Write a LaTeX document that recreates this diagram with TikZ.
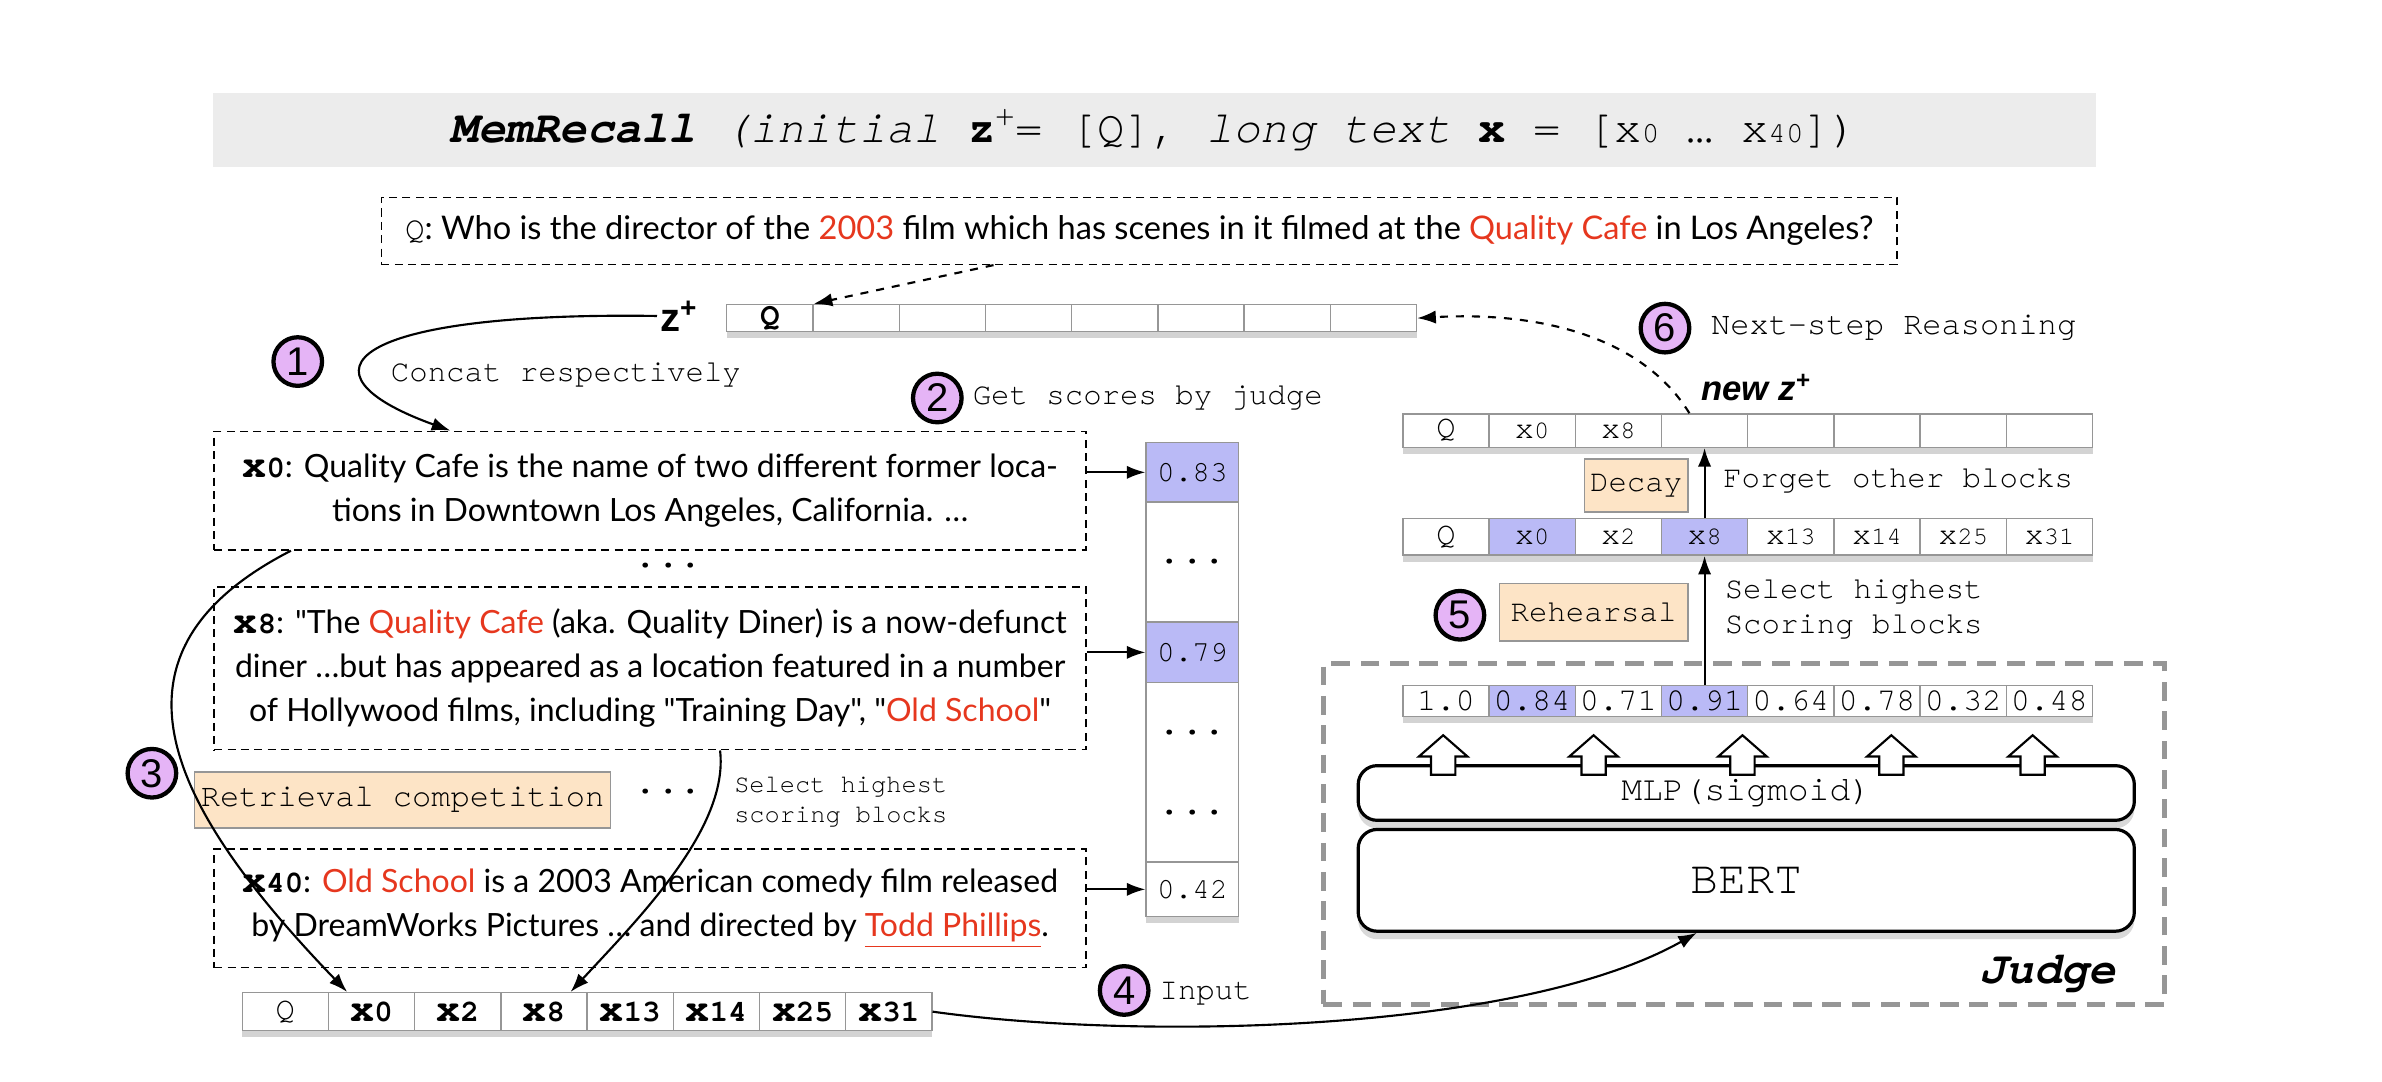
\documentclass[tikz,border=0pt]{standalone}
\usepackage{fontspec}
\setmainfont[Ligatures=TeXOff]{Lato}
\setmonofont{TeX Gyre Cursor}
\newfontfamily\helv{Liberation Sans}
\usetikzlibrary{arrows.meta,shadows}

\definecolor{stepfill}{RGB}{229,180,246}
\definecolor{hlblue}{RGB}{186,186,246}
\definecolor{peach}{RGB}{253,228,198}
\definecolor{hotred}{RGB}{230,55,30}
\definecolor{bandgray}{RGB}{236,236,236}
\definecolor{edgegray}{RGB}{150,150,150}

\newcommand\redw[1]{\textcolor{hotred}{#1}}
\newcommand\xs[1]{x{\fontsize{9.5}{9.5}\selectfont#1}}
\newcommand\xb[1]{\textbf{\fontsize{15}{15}\selectfont x\fontsize{11.5}{11.5}\selectfont#1}}
\newcommand\xt[1]{\textbf{\ttfamily\fontsize{15}{15}\selectfont x\fontsize{11.5}{11.5}\selectfont#1}}
\newcommand\cellrow[5]{%
  \foreach \lab/\fl [count=\i from 0] in {#5}
    \node[cell, fill=\fl, minimum height=#4] (#1-\i) at ({#2+\i*56.75}, #3) {\lab};
}

\tikzset{
  numcirc/.style={circle, draw, line width=1.6pt, fill=stepfill, inner sep=0pt,
    minimum size=0.64cm, font=\helv\fontsize{15}{15}\selectfont},
  cell/.style={draw=edgegray, line width=0.5pt, inner sep=0pt, minimum width=1.135cm,
    anchor=north west, font=\ttfamily\fontsize{12}{12}\selectfont,
    drop shadow={shadow xshift=0pt, shadow yshift=-2.5pt, opacity=0.35}},
  scell/.style={cell, minimum width=1.22cm, font=\ttfamily\fontsize{11}{11}\selectfont},
  textbox/.style={draw, dash pattern=on 3pt off 2pt, line width=0.6pt, minimum width=11.48cm,
    align=center, font=\fontsize{12}{16.5}\selectfont},
  tagbox/.style={draw=edgegray, fill=peach, line width=0.6pt, inner sep=0pt,
    font=\ttfamily\fontsize{11.5}{11.5}\selectfont},
  mono/.style={font=\ttfamily\fontsize{11.5}{13}\selectfont, inner sep=0pt, anchor=west, align=left},
  dots/.style={font=\ttfamily\bfseries\fontsize{14}{30}\selectfont, inner sep=0pt, align=center},
  netbox/.style={draw, line width=1.2pt, rounded corners=0.25cm, fill=white, minimum width=10.22cm,
    drop shadow={shadow xshift=0pt, shadow yshift=-3pt, opacity=0.3}},
  conn/.style={line width=0.8pt, -{Latex[length=7pt,width=5pt]}},
}

\begin{document}
\begin{tikzpicture}[x=0.02cm, y=-0.02cm]
%%%%% START %%%%%
\useasboundingbox (0,0) rectangle (1568,712);

\node[fill=bandgray, minimum width=24.8cm, minimum height=0.98cm] (title) at (760,85.5)
  {\ttfamily\fontsize{17}{20}\selectfont\textbf{\textit{MemRecall}} \textit{(initial} \textbf{z}\textsuperscript{+}= [Q], \textit{long text} \textbf{x} = [x{\fontsize{11}{11}\selectfont0} … x{\fontsize{11}{11}\selectfont40}])};

\node[textbox, minimum width=19.96cm, minimum height=0.88cm, font=\fontsize{12.2}{14}\selectfont] (qbox) at (750,152)
  {{\ttfamily Q}: Who is the director of the \redw{2003} film which has scenes in it filmed at the \redw{Quality Cafe} in Los Angeles?};

% memory z+
\node[font=\helv\bfseries\fontsize{15}{15}\selectfont, inner sep=1pt] (zlab) at (447,208) {z\textsuperscript{+}};
\cellrow{zr}{478}{200}{0.36cm}{\textbf{Q}/white,{}/white,{}/white,{}/white,{}/white,{}/white,{}/white,{}/white}

\node[numcirc] (c1) at (196,238) {1};
\node[mono] (concat) at (257,247) {Concat respectively};
\node[numcirc] (c2) at (617,262) {2};
\node[mono] (getsc) at (640,262) {Get scores by judge};

% long text blocks
\node[textbox, minimum height=1.56cm] (x0box) at (428,323)
  {\xt{0}: Quality Cafe is the name of two different former loca-\\tions in Downtown Los Angeles, California. …};
\node[dots] (dl1) at (440,372) {...};
\node[textbox, minimum height=2.14cm] (x8box) at (428,440)
  {\xt{8}: "The \redw{Quality Cafe} (aka. Quality Diner) is a now-defunct\\diner …but has appeared as a location featured in a number\\of Hollywood films, including "Training Day", "\redw{Old School}"};
\node[numcirc] (c3) at (100,509) {3};
\node[tagbox, minimum width=5.48cm, minimum height=0.74cm, font=\ttfamily\fontsize{12}{12}\selectfont] (retr) at (265,526.5) {Retrieval competition};
\node[dots] (dl2) at (440,521) {...};
\node[mono, font=\ttfamily\fontsize{9.5}{11.4}\selectfont] (selL) at (483,528) {Select highest\\scoring blocks};
\node[textbox, minimum height=1.56cm] (x40box) at (428,598)
  {\xt{40}: \redw{Old School} is a 2003 American comedy film released\\by DreamWorks Pictures … and directed by \redw{\underline{Todd Phillips}}.};

% score column
\node[scell, fill=hlblue, minimum height=0.78cm] (sc1) at (754,291) {0.83};
\node[scell, fill=white, minimum height=1.58cm] (sd1) at (754,330) {};
\node[dots] at (sd1) {...};
\node[scell, fill=hlblue, minimum height=0.8cm] (sc2) at (754,409) {0.79};
\node[scell, fill=white, minimum height=2.36cm] (sd2) at (754,449) {};
\node[dots] at (sd2) {...\\...};
\node[scell, fill=white, minimum height=0.72cm] (sc3) at (754,567) {0.42};

\draw[conn] (x0box.east |- sc1.west) -- (sc1.west);
\draw[conn] (x8box.east |- sc2.west) -- (sc2.west);
\draw[conn] (x40box.east |- sc3.west) -- (sc3.west);

% candidates after competition
\cellrow{br}{159}{653}{0.5cm}{Q/white,\xb{0}/white,\xb{2}/white,\xb{8}/white,\xb{13}/white,\xb{14}/white,\xb{25}/white,\xb{31}/white}
\node[numcirc] (c4) at (740,652) {4};
\node[mono] (inp) at (763,654) {Input};

% judge
\node[draw=edgegray, dash pattern=on 7pt off 4pt, line width=1.8pt, minimum width=11.08cm, minimum height=4.48cm] (judge) at (1148,549) {};
\node[font=\ttfamily\bfseries\itshape\fontsize{17}{17}\selectfont, inner sep=0pt] (jlab) at (1348,641) {Judge};
\cellrow{sr}{923}{451}{0.4cm}{1.0/white,0.84/hlblue,0.71/white,0.91/hlblue,0.64/white,0.78/white,0.32/white,0.48/white}
\node[netbox, minimum height=0.72cm, font=\ttfamily\fontsize{13}{13}\selectfont] (mlp) at (1149.5,522) {MLP(sigmoid)};
\node[netbox, minimum height=1.34cm, font=\ttfamily\fontsize{17.5}{17.5}\selectfont] (bert) at (1149.5,579.5) {BERT};
\foreach \ax in {950,1049,1147,1245,1338}
  \draw[fill=white, line width=0.8pt] (\ax,484) -- (\ax+16,498) -- (\ax+8,498) -- (\ax+8,510)
    -- (\ax-8,510) -- (\ax-8,498) -- (\ax-16,498) -- cycle;

% working memory
\cellrow{mr}{923}{341}{0.48cm}{Q/white,\xs{0}/hlblue,\xs{2}/white,\xs{8}/hlblue,\xs{13}/white,\xs{14}/white,\xs{25}/white,\xs{31}/white}
\node[numcirc] (c5) at (961,405) {5};
\node[tagbox, minimum width=2.48cm, minimum height=0.76cm] (reh) at (1049,403) {Rehearsal};
\node[mono] (selR) at (1135,401) {Select highest\\Scoring blocks};
\node[tagbox, minimum width=1.36cm, minimum height=0.7cm] (decay) at (1077,319.5) {Decay};
\node[mono] (forget) at (1134,317) {Forget other blocks};
\cellrow{nr}{923}{272}{0.44cm}{Q/white,\xs{0}/white,\xs{8}/white,{}/white,{}/white,{}/white,{}/white,{}/white}
\node[font=\helv\bfseries\itshape\fontsize{13}{13}\selectfont, inner sep=0pt] (newz) at (1156,255) {new z\textsuperscript{+}};
\node[numcirc] (c6) at (1096,216) {6};
\node[mono, font=\ttfamily\fontsize{12}{12}\selectfont] (next) at (1126,216) {Next-step Reasoning};

% connectors
\draw[conn, dashed] ([xshift=-1.92cm]qbox.south) -- (zr-0.north east);
\draw[conn] (zlab.west) .. controls (230,205) and (190,245) .. ([xshift=3.12cm]x0box.north west);
\draw[conn] ([xshift=1.02cm]x0box.south west) .. controls (60,430) and (110,530) .. ([xshift=-0.32cm]br-1.north);
\draw[conn] ([xshift=0.92cm]x8box.south) .. controls (480,545) and (420,605) .. ([xshift=0.35cm]br-3.north);
\draw[conn] (br-7.east) .. controls (750,685) and (1000,680) .. ([xshift=-0.65cm]bert.south);
\draw[conn] (sr-3.north) -- (mr-3.south);
\draw[conn] (mr-3.north) -- (nr-3.south);
\draw[conn, dashed] ([xshift=-0.2cm]nr-3.north) .. controls (1080,220) and (1010,205) .. (zr-7.east);
%%%%% END %%%%%
\end{tikzpicture}
\end{document}
